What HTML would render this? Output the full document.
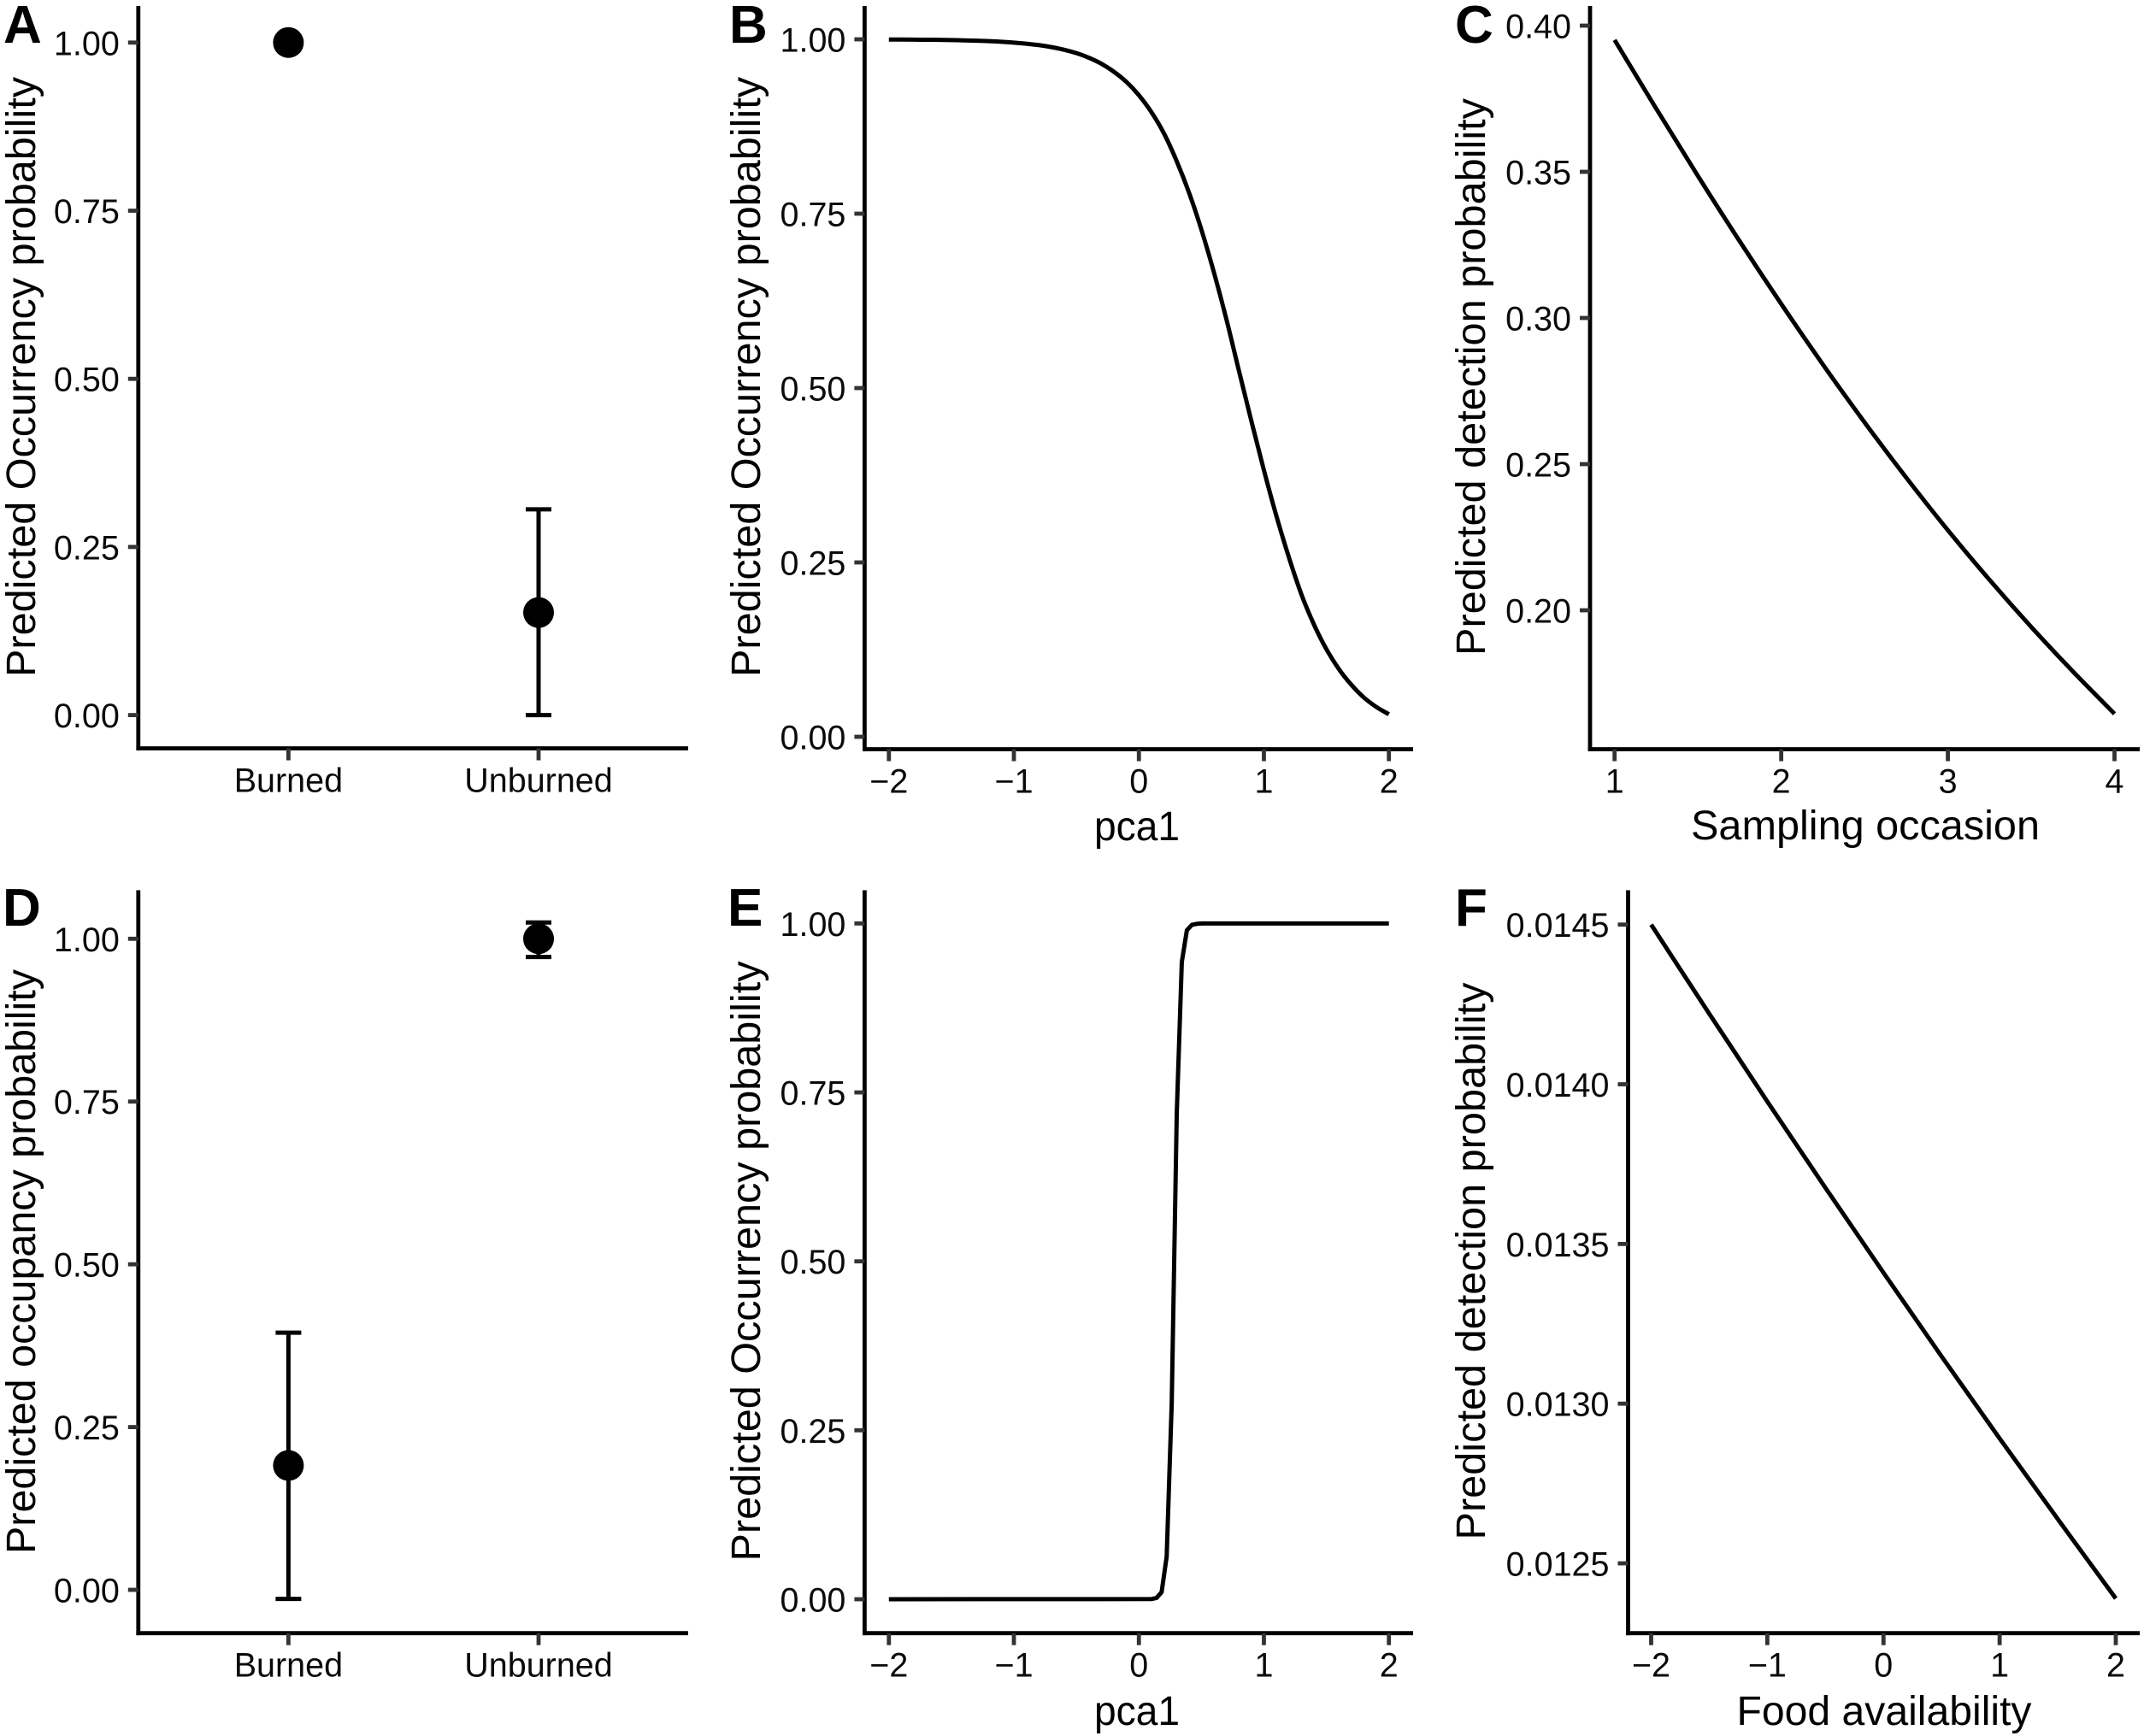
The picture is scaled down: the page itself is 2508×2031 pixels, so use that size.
<!DOCTYPE html>
<html lang="en">
<head>
<meta charset="utf-8">
<title>Predicted occurrence and detection probability panels</title>
<style>
  html, body { margin: 0; padding: 0; background: #fff; }
  svg { display: block; }
  text { font-family: "Liberation Sans", Arial, sans-serif; fill: #000; }
  .letter { font-size: 62px; font-weight: 700; }
  .title { font-size: 48px; }
  .tick-label { font-size: 39.5px; fill: #0a0a0a; }
</style>
</head>
<body>
<svg id="figure" xmlns="http://www.w3.org/2000/svg" width="2508" height="2031" viewBox="0 0 2508 2031">
  <rect x="0" y="0" width="2508" height="2031" fill="#ffffff"/>

  <g id="panel-a">
    <text class="letter" x="4" y="50">A</text>
    <text class="title" transform="translate(41,441) rotate(-90)" text-anchor="middle" textLength="702" lengthAdjust="spacingAndGlyphs">Predicted Occurrency probability</text>
  </g>
  <g id="panel-b">
    <text class="letter" x="853" y="50">B</text>
    <text class="title" transform="translate(889,441) rotate(-90)" text-anchor="middle" textLength="702" lengthAdjust="spacingAndGlyphs">Predicted Occurrency probability</text>
    <text class="title" x="1330" y="983" text-anchor="middle" textLength="100" lengthAdjust="spacingAndGlyphs">pca1</text>
  </g>
  <g id="panel-c">
    <text class="letter" x="1702" y="50">C</text>
    <text class="title" transform="translate(1737,441) rotate(-90)" text-anchor="middle" textLength="652" lengthAdjust="spacingAndGlyphs">Predicted detection probability</text>
    <text class="title" x="2182" y="982" text-anchor="middle" textLength="408" lengthAdjust="spacingAndGlyphs">Sampling occasion</text>
  </g>
  <g id="panel-d">
    <text class="letter" x="3" y="1083">D</text>
    <text class="title" transform="translate(41,1476) rotate(-90)" text-anchor="middle" textLength="684" lengthAdjust="spacingAndGlyphs">Predicted occupancy probability</text>
  </g>
  <g id="panel-e">
    <text class="letter" x="851" y="1083">E</text>
    <text class="title" transform="translate(889,1475.5) rotate(-90)" text-anchor="middle" textLength="702" lengthAdjust="spacingAndGlyphs">Predicted Occurrency probability</text>
    <text class="title" x="1330" y="2018" text-anchor="middle" textLength="100" lengthAdjust="spacingAndGlyphs">pca1</text>
  </g>
  <g id="panel-f">
    <text class="letter" x="1702" y="1083">F</text>
    <text class="title" transform="translate(1737,1475.5) rotate(-90)" text-anchor="middle" textLength="652" lengthAdjust="spacingAndGlyphs">Predicted detection probability</text>
    <text class="title" x="2204" y="2018" text-anchor="middle" textLength="345" lengthAdjust="spacingAndGlyphs">Food availability</text>
  </g>
</svg>

<script>
// ---- Panel A data ----
const panelACategories = ['Burned', 'Unburned'];
const panelAEstimates = [1.0, 0.1525];
const panelALower = [1.0, 0.0];
const panelAUpper = [1.0, 0.306];
const panelAYTicks = [0, 0.25, 0.5, 0.75, 1];
const panelAYLabels = ['0.00', '0.25', '0.50', '0.75', '1.00'];

// ---- Panel B data ----
const panelBX = [-2, -1.9, -1.8, -1.7, -1.6, -1.5, -1.4, -1.3, -1.2, -1.1, -1, -0.9, -0.8, -0.7, -0.6, -0.5, -0.4, -0.3, -0.2, -0.1, 0, 0.1, 0.2, 0.3, 0.4, 0.5, 0.6, 0.7, 0.8, 0.9, 1, 1.1, 1.2, 1.3, 1.4, 1.5, 1.6, 1.7, 1.8, 1.9, 2];
const panelBY = [0.9997, 0.99966, 0.9995, 0.9994, 0.9992, 0.9989, 0.9985, 0.998, 0.9974, 0.9965, 0.9953, 0.9937, 0.9917, 0.9888, 0.9851, 0.9802, 0.9736, 0.965, 0.9535, 0.9389, 0.9199, 0.8957, 0.8653, 0.8263, 0.7807, 0.7271, 0.666, 0.5987, 0.525, 0.4526, 0.3823, 0.3165, 0.2573, 0.2042, 0.1611, 0.1256, 0.0971, 0.0745, 0.0563, 0.0427, 0.0323];
const panelBXTicks = [-2, -1, 0, 1, 2];
const panelBXLabels = ['\u22122', '\u22121', '0', '1', '2'];
const panelBYTicks = [0, 0.25, 0.5, 0.75, 1];
const panelBYLabels = ['0.00', '0.25', '0.50', '0.75', '1.00'];

// ---- Panel C data ----
const panelCX = [1, 1.25, 1.5, 1.75, 2, 2.25, 2.5, 2.75, 3, 3.25, 3.5, 3.75, 4];
const panelCY = [0.3951, 0.3716, 0.3486, 0.3263, 0.3048, 0.2841, 0.2643, 0.2454, 0.2274, 0.2104, 0.1943, 0.1791, 0.1646];
const panelCXTicks = [1, 2, 3, 4];
const panelCXLabels = ['1', '2', '3', '4'];
const panelCYTicks = [0.2, 0.25, 0.3, 0.35, 0.4];
const panelCYLabels = ['0.20', '0.25', '0.30', '0.35', '0.40'];

// ---- Panel D data ----
const panelDCategories = ['Burned', 'Unburned'];
const panelDEstimates = [0.191, 1.0];
const panelDLower = [-0.014, 0.972];
const panelDUpper = [0.395, 1.025];
const panelDYTicks = [0, 0.25, 0.5, 0.75, 1];
const panelDYLabels = ['0.00', '0.25', '0.50', '0.75', '1.00'];

// ---- Panel E data ----
const panelEX = [-2, 0.101, 0.1414, 0.1818, 0.2222, 0.2626, 0.303, 0.3434, 0.3838, 0.4242, 0.4646, 0.5051, 2];
const panelEY = [0, 0.0003, 0.002, 0.0105, 0.063, 0.29, 0.72, 0.943, 0.99, 0.998, 0.9995, 1, 1];
const panelEXTicks = [-2, -1, 0, 1, 2];
const panelEXLabels = ['\u22122', '\u22121', '0', '1', '2'];
const panelEYTicks = [0, 0.25, 0.5, 0.75, 1];
const panelEYLabels = ['0.00', '0.25', '0.50', '0.75', '1.00'];

// ---- Panel F data ----
const panelFX = [-2, -1.5, -1, -0.5, 0, 0.5, 1, 1.5, 2];
const panelFY = [0.0145, 0.014221, 0.013946, 0.013676, 0.01341, 0.013148, 0.012891, 0.012639, 0.01239];
const panelFXTicks = [-2, -1, 0, 1, 2];
const panelFXLabels = ['\u22122', '\u22121', '0', '1', '2'];
const panelFYTicks = [0.0125, 0.013, 0.0135, 0.014, 0.0145];
const panelFYLabels = ['0.0125', '0.0130', '0.0135', '0.0140', '0.0145'];

// ---- Drawing ----
const SVG_NS = 'http://www.w3.org/2000/svg';
const AXIS_COLOR = '#000000';
const TICK_COLOR = '#333333';
const AXIS_WIDTH = 4.8;
const TICK_WIDTH = 4.8;
const TICK_LENGTH = 12;
const MARK_WIDTH = 5;
const POINT_RADIUS = 18;
const CAP_HALF_WIDTH = 15;

function linear(d0, d1, r0, r1) {
  return function (v) { return r0 + (v - d0) * (r1 - r0) / (d1 - d0); };
}

function make(tag, parent, attrs) {
  const el = document.createElementNS(SVG_NS, tag);
  Object.keys(attrs).forEach(function (k) { el.setAttribute(k, attrs[k]); });
  parent.appendChild(el);
  return el;
}

function drawAxes(parent, prefix, frame, xScale, yScale, xTicks, xLabels, yTicks, yLabels) {
  const yLine = make('line', parent, { x1: frame.axisX, x2: frame.axisX, y1: frame.top, y2: frame.bottom + AXIS_WIDTH / 2, stroke: AXIS_COLOR, 'stroke-width': AXIS_WIDTH });
  
  
  const xLine = make('line', parent, { x1: frame.axisX - AXIS_WIDTH / 2, x2: frame.right, y1: frame.bottom, y2: frame.bottom, stroke: AXIS_COLOR, 'stroke-width': AXIS_WIDTH });
  
  

  yTicks.forEach(function (t, i) {
    const y = yScale(t);
    const tick = make('line', parent, { x1: frame.axisX - TICK_LENGTH, x2: frame.axisX, y1: y, y2: y, stroke: TICK_COLOR, 'stroke-width': TICK_WIDTH });
    
    
    const label = make('text', parent, { x: frame.axisX - 22, y: y + 14.5, 'text-anchor': 'end', class: 'tick-label' });
    
    
    label.textContent = yLabels[i];
  });

  xTicks.forEach(function (t, i) {
    const x = xScale(t);
    const tick = make('line', parent, { x1: x, x2: x, y1: frame.bottom, y2: frame.bottom + TICK_LENGTH + 2, stroke: TICK_COLOR, 'stroke-width': TICK_WIDTH });
    
    
    const label = make('text', parent, { x: x, y: frame.bottom + 51, 'text-anchor': 'middle', class: 'tick-label' });
    
    
    label.textContent = xLabels[i];
  });
}

// Straight segments when smooth is false; Catmull-Rom through the data when true.
function drawCurve(parent, prefix, xs, ys, xScale, yScale, smooth) {
  const pts = xs.map(function (x, i) { return [xScale(x), yScale(ys[i])]; });
  let d = 'M' + pts[0][0].toFixed(2) + ' ' + pts[0][1].toFixed(2);
  for (let i = 1; i < pts.length; i++) {
    if (smooth) {
      const p0 = pts[Math.max(i - 2, 0)];
      const p1 = pts[i - 1];
      const p2 = pts[i];
      const p3 = pts[Math.min(i + 1, pts.length - 1)];
      const c1x = p1[0] + (p2[0] - p0[0]) / 6;
      const c1y = p1[1] + (p2[1] - p0[1]) / 6;
      const c2x = p2[0] - (p3[0] - p1[0]) / 6;
      const c2y = p2[1] - (p3[1] - p1[1]) / 6;
      d += ' C' + c1x.toFixed(2) + ' ' + c1y.toFixed(2) + ' ' + c2x.toFixed(2) + ' ' + c2y.toFixed(2) + ' ' + p2[0].toFixed(2) + ' ' + p2[1].toFixed(2);
    } else {
      d += ' L' + pts[i][0].toFixed(2) + ' ' + pts[i][1].toFixed(2);
    }
  }
  const path = make('path', parent, { d: d, fill: 'none', stroke: '#000000', 'stroke-width': MARK_WIDTH, 'stroke-linejoin': 'round' });
  
  
}

function drawPoints(parent, prefix, cats, est, lower, upper, xScale, yScale) {
  cats.forEach(function (c, i) {
    const x = xScale(i);
    const slug = c.toLowerCase();
    const stem = make('line', parent, { x1: x, x2: x, y1: yScale(lower[i]), y2: yScale(upper[i]), stroke: '#000000', 'stroke-width': MARK_WIDTH });
    
    
    const capLow = make('line', parent, { x1: x - CAP_HALF_WIDTH, x2: x + CAP_HALF_WIDTH, y1: yScale(lower[i]), y2: yScale(lower[i]), stroke: '#000000', 'stroke-width': MARK_WIDTH });
    
    
    const capHigh = make('line', parent, { x1: x - CAP_HALF_WIDTH, x2: x + CAP_HALF_WIDTH, y1: yScale(upper[i]), y2: yScale(upper[i]), stroke: '#000000', 'stroke-width': MARK_WIDTH });
    
    
    const dot = make('circle', parent, { cx: x, cy: yScale(est[i]), r: POINT_RADIUS, fill: '#000000' });
    
    
  });
}

const catScale = linear(0, 1, 337.4, 630);
const catIndex = [0, 1];

// Panel A
(function () {
  const g = document.getElementById('panel-a');
  const frame = { axisX: 161.8, top: 7, bottom: 875.5, right: 805 };
  const y = linear(0, 1, 836.6, 49.8);
  drawAxes(g, 'panel-a', frame, catScale, y, catIndex, panelACategories, panelAYTicks, panelAYLabels);
  drawPoints(g, 'panel-a', panelACategories, panelAEstimates, panelALower, panelAUpper, catScale, y);
})();

// Panel B
(function () {
  const g = document.getElementById('panel-b');
  const frame = { axisX: 1011.4, top: 7, bottom: 876.5, right: 1653 };
  const x = linear(-2, 2, 1039.8, 1624.7);
  const y = linear(0, 1, 862, 46);
  drawAxes(g, 'panel-b', frame, x, y, panelBXTicks, panelBXLabels, panelBYTicks, panelBYLabels);
  drawCurve(g, 'panel-b', panelBX, panelBY, x, y, true);
})();

// Panel C
(function () {
  const g = document.getElementById('panel-c');
  const frame = { axisX: 1860, top: 7, bottom: 876.5, right: 2503 };
  const x = linear(1, 4, 1888.7, 2473.5);
  const y = linear(0.2, 0.4, 714, 30);
  drawAxes(g, 'panel-c', frame, x, y, panelCXTicks, panelCXLabels, panelCYTicks, panelCYLabels);
  drawCurve(g, 'panel-c', panelCX, panelCY, x, y, true);
})();

// Panel D
(function () {
  const g = document.getElementById('panel-d');
  const frame = { axisX: 161.8, top: 1041.5, bottom: 1910.7, right: 805 };
  const y = linear(0, 1, 1860, 1098.3);
  drawAxes(g, 'panel-d', frame, catScale, y, catIndex, panelDCategories, panelDYTicks, panelDYLabels);
  drawPoints(g, 'panel-d', panelDCategories, panelDEstimates, panelDLower, panelDUpper, catScale, y);
})();

// Panel E
(function () {
  const g = document.getElementById('panel-e');
  const frame = { axisX: 1011.4, top: 1041.5, bottom: 1910.7, right: 1653 };
  const x = linear(-2, 2, 1039.8, 1624.7);
  const y = linear(0, 1, 1871, 1080.4);
  drawAxes(g, 'panel-e', frame, x, y, panelEXTicks, panelEXLabels, panelEYTicks, panelEYLabels);
  drawCurve(g, 'panel-e', panelEX, panelEY, x, y, false);
})();

// Panel F
(function () {
  const g = document.getElementById('panel-f');
  const frame = { axisX: 1904.5, top: 1041.5, bottom: 1910.7, right: 2503 };
  const x = linear(-2, 2, 1931.5, 2475);
  const y = linear(0.0125, 0.0145, 1829, 1081.7);
  drawAxes(g, 'panel-f', frame, x, y, panelFXTicks, panelFXLabels, panelFYTicks, panelFYLabels);
  drawCurve(g, 'panel-f', panelFX, panelFY, x, y, true);
})();
</script>
</body>
</html>
